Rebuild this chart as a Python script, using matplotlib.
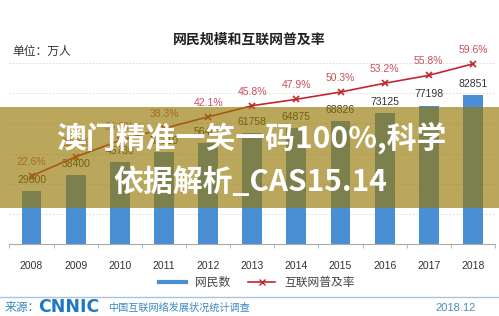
import matplotlib
matplotlib.use('Agg')
import matplotlib.pyplot as plt
from matplotlib.lines import Line2D
from matplotlib.patches import Rectangle

plt.rcParams['font.family'] = ['Liberation Sans', 'Noto Sans CJK SC', 'DejaVu Sans']

# data
years = ['2008', '2009', '2010', '2011', '2012', '2013', '2014', '2015', '2016', '2017', '2018']
users = [29800, 38400, 45730, 51310, 56400, 61758, 64875, 68826, 73125, 77198, 82851]
rates = [22.6, 28.9, 34.3, 38.3, 42.1, 45.8, 47.9, 50.3, 53.2, 55.8, 59.6]

bar_color = '#4A8FD4'
line_color = '#C0282E'

fig = plt.figure(figsize=(4.99, 3.16), dpi=100)
ax = fig.add_axes([0.019, 0.2266, 0.973, 0.671])
x = list(range(len(years)))

# bars
ax.bar(x, users, width=0.45, color=bar_color, zorder=2)
ymax = 117900
ax.set_ylim(0, ymax)
ax.set_xlim(-0.5, len(years) - 0.5)
for xi, v in zip(x, users):
    ax.annotate(str(v), (xi, v), xytext=(0, 8), textcoords='offset points',
                ha='center', va='center', fontsize=7.5, color='#333333', zorder=3)

# grid lines (10% steps of the rate axis)
ax.set_yticks([k * ymax / 70 for k in range(10, 70, 10)])
ax.grid(axis='y', ls=(0, (2, 2)), color='#D8D8D8', lw=0.6)
ax.set_axisbelow(True)
ax.yaxis.set_tick_params(which='both', left=False, right=False,
                         labelleft=False, length=0)
for s in ['top', 'left', 'right']:
    ax.spines[s].set_visible(False)
ax.spines['bottom'].set_color('#AAAAAA')

ax.set_xticks(x)
ax.set_xticklabels(years, fontsize=7.5, color='#333333')
ax.set_xticks([i - 0.5 for i in range(len(years) + 1)], minor=True)
ax.tick_params(axis='x', which='major', length=0, pad=12)
ax.tick_params(axis='x', which='minor', length=3, color='#AAAAAA')

# rate line
ax2 = ax.twinx()
ax2.plot(x, rates, color=line_color, lw=1.2, marker='x', ms=5, mew=1.2)
ax2.set_ylim(0, 70)
ax2.axis('off')
for xi, r in zip(x, rates):
    ax2.annotate('%.1f%%' % r, (xi, r), xytext=(0, 10), textcoords='offset points',
                 ha='center', va='center', fontsize=7.5, color='#C8505A')

# title and unit
fig.text(0.5, 1 - 40 / 316, '网民规模和互联网普及率', ha='center', va='center',
         fontsize=10, weight='bold', color='#222222')
fig.text(12 / 499, 1 - 52 / 316, '单位：万人', ha='left', va='center',
         fontsize=8.5, color='#333333')

# legend
handles = [Line2D([], [], color=bar_color, lw=3),
           Line2D([], [], color=line_color, lw=1.2, marker='x', ms=5)]
fig.legend(handles, ['网民数', '互联网普及率'], loc='center', ncol=2,
           bbox_to_anchor=(257 / 499, 1 - 283 / 316), frameon=False,
           fontsize=8.5, handlelength=2.3, columnspacing=1.5, labelcolor='#444444')

# footer
fig.add_artist(Line2D([0, 1], [1 - 297 / 316] * 2, transform=fig.transFigure,
                      color='#A9C4DA', lw=1))
fig.text(5 / 499, 1 - 308 / 316, '来源：', ha='left', va='center', fontsize=8.5, color='#3A86C0')
fig.text(38 / 499, 1 - 307 / 316, 'CNNIC', ha='left', va='center', fontsize=12.5,
         weight='heavy', color='#1E78C2', family='DejaVu Sans')
fig.text(108 / 499, 1 - 308 / 316, '中国互联网络发展状况统计调查', ha='left', va='center',
         fontsize=7.3, color='#3C8AC4')
fig.text(456 / 499, 1 - 308 / 316, '2018.12', ha='center', va='center', fontsize=8,
         color='#4A8DB0')

# overlay banner
fig.add_artist(Rectangle((0, 1 - 208 / 316), 1, 101 / 316, transform=fig.transFigure,
                         facecolor='#967803', alpha=0.65, edgecolor='none', zorder=5))
fig.text(251 / 499, 1 - 138 / 316, '澳门精准一笑一码100%,科学', ha='center', va='center',
         fontsize=21.5, weight='bold', color='white', zorder=6,
         family=['Noto Sans CJK SC', 'DejaVu Sans'])
fig.text(250 / 499, 1 - 182 / 316, '依据解析_CAS15.14', ha='center', va='center',
         fontsize=21.5, weight='bold', color='white', zorder=6,
         family=['Noto Sans CJK SC', 'DejaVu Sans'])

fig.savefig('out.png', dpi=100)
